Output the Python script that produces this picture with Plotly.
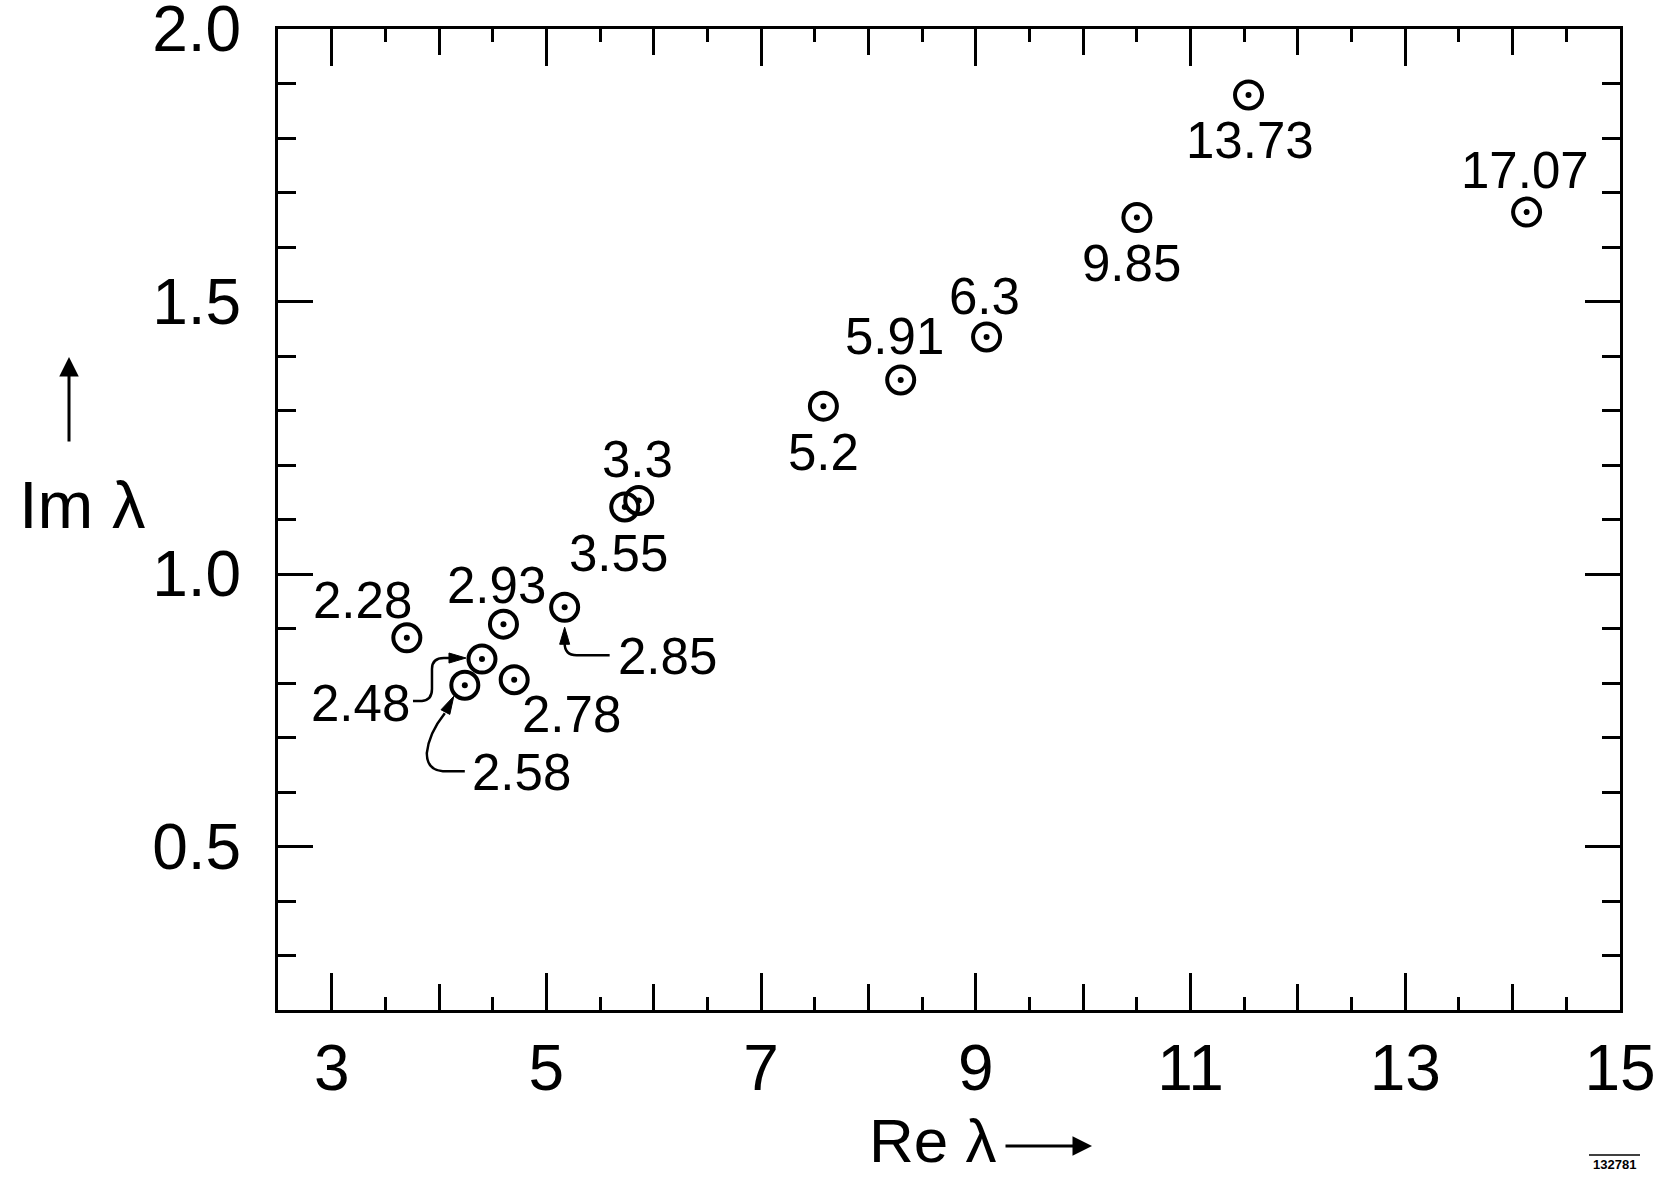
import plotly.graph_objects as go

# ---------------- data ----------------
labels = ["2.28", "2.93", "2.48", "2.58", "2.78", "2.85", "3.55", "3.3",
          "5.2", "5.91", "6.3", "9.85", "13.73", "17.07"]
re_lambda = [3.70, 4.60, 4.40, 4.24, 4.70, 5.17, 5.73, 5.86,
             7.58, 8.30, 9.10, 10.50, 11.54, 14.13]
im_lambda = [0.883, 0.908, 0.844, 0.796, 0.806, 0.939, 1.123, 1.135,
             1.308, 1.356, 1.435, 1.654, 1.879, 1.664]

x_major_ticks = [3, 5, 7, 9, 11, 13, 15]
x_mid_ticks = [4, 6, 8, 10, 12, 14]
y_major_ticks = [0.5, 1.0, 1.5, 2.0]
y_tick_text = ["0.5", "1.0", "1.5", "2.0"]

# ---------------- layout constants ----------------
W, H = 1655, 1177
L, R, T, B = 278, 35, 29, 167
PW, PH = W - L - R, H - T - B
FONT = "Liberation Sans, Arial, sans-serif"


def px(xp, yp):
    """pixel position in the page -> paper coordinates"""
    return (xp - L) / PW, (H - B - yp) / PH


# label offsets in pixels (dx right, dy up) relative to each point
label_offsets = {
    "2.28": (-44, 37), "2.93": (-7, 39), "2.48": (-121, -44),
    "2.58": (57, -87), "2.78": (57, -35), "2.85": (103, -49),
    "3.55": (-6, -47), "3.3": (-1, 41), "5.2": (0, -46),
    "5.91": (-6, 43), "6.3": (-2, 40), "9.85": (-5, -46),
    "13.73": (1, -46), "17.07": (-2, 42),
}

fig = go.Figure()
fig.add_trace(go.Scatter(
    x=re_lambda, y=im_lambda, mode="markers",
    marker=dict(symbol="circle-open", size=27, color="black",
                line=dict(width=4, color="black")),
    showlegend=False, hoverinfo="skip"))
fig.add_trace(go.Scatter(
    x=re_lambda, y=im_lambda, mode="markers",
    marker=dict(symbol="circle", size=6, color="black", line=dict(width=0)),
    showlegend=False, hoverinfo="skip"))
# empty trace to activate the overlay axis for the even-integer ticks
fig.add_trace(go.Scatter(x=[None], y=[None], xaxis="x2", mode="markers",
                         showlegend=False, hoverinfo="skip"))

annotations = []
for lab, xv, yv in zip(labels, re_lambda, im_lambda):
    dx, dy = label_offsets[lab]
    annotations.append(dict(x=xv, y=yv, xref="x", yref="y", text=lab,
                            showarrow=False, xshift=dx, yshift=dy,
                            xanchor="center", yanchor="middle",
                            font=dict(family=FONT, size=51, color="black")))

# axis titles
ax_, ay_ = px(82, 504)
annotations.append(dict(x=ax_, y=ay_, xref="paper", yref="paper", text="Im λ",
                        showarrow=False, xanchor="center", yanchor="middle",
                        font=dict(family=FONT, size=67, color="black")))
tx, ty = px(69, 357)
annotations.append(dict(x=tx, y=ty, xref="paper", yref="paper", text="",
                        showarrow=True, ax=0, ay=86, arrowhead=2, arrowsize=1.3,
                        arrowwidth=3, arrowcolor="black"))
rx, ry = px(932, 1140)
annotations.append(dict(x=rx, y=ry, xref="paper", yref="paper", text="Re λ",
                        showarrow=False, xanchor="center", yanchor="middle",
                        font=dict(family=FONT, size=62, color="black")))
tx, ty = px(1092, 1146)
annotations.append(dict(x=tx, y=ty, xref="paper", yref="paper", text="",
                        showarrow=True, ax=-88, ay=0, arrowhead=2, arrowsize=1.3,
                        arrowwidth=3, arrowcolor="black"))
cx, cy = px(1614, 1164)
annotations.append(dict(x=cx, y=cy, xref="paper", yref="paper", text="<b>132781</b>",
                        showarrow=False, xanchor="center", yanchor="middle",
                        font=dict(family=FONT, size=13, color="black")))

# curved leader arrows (pixel paths anchored at their points)
idx = {lab: i for i, lab in enumerate(labels)}
leader_paths = {
    "2.48": ("M -69,-42 L -60,-42 Q -50,-41 -50,-30 L -50,-10 Q -50,1 -38,1 L -30,1",
             "M -16,1 L -33,6 L -33,-4 Z"),
    "2.58": ("M 0,-86 L -22,-86 Q -38,-85 -38,-68 Q -36,-48 -20,-28",
             "M -11,-11 L -23.8,-24.6 L -15,-29.2 Z"),
    "2.85": ("M 45,-48 L 12,-48 Q 0,-48 0,-36",
             "M 0,-20 L -5,-37 L 5,-37 Z"),
}
shapes = []
for lab, (curve, head) in leader_paths.items():
    i = idx[lab]
    common = dict(xref="x", yref="y", xsizemode="pixel", ysizemode="pixel",
                  xanchor=re_lambda[i], yanchor=im_lambda[i])
    shapes.append(dict(type="path", path=curve, line=dict(color="black", width=2.5), **common))
    shapes.append(dict(type="path", path=head, fillcolor="black",
                       line=dict(color="black", width=1), **common))

# overline above the figure number
ox0, oy = px(1589, 1155)
ox1, _ = px(1640, 1155)
shapes.append(dict(type="line", xref="paper", yref="paper", x0=ox0, x1=ox1, y0=oy, y1=oy,
                   line=dict(color="black", width=1.5)))

fig.update_layout(
    width=W, height=H,
    margin=dict(l=L, r=R, t=T, b=B, pad=0, autoexpand=False),
    paper_bgcolor="white", plot_bgcolor="white",
    font=dict(family=FONT, color="black"),
    xaxis=dict(range=[2.5, 15], tickmode="array", tickvals=x_major_ticks,
               ticktext=[str(v) for v in x_major_ticks], automargin=False,
               ticks="inside", ticklen=37, tickwidth=3, tickcolor="black",
               showline=True, linewidth=3, linecolor="black", mirror="ticks",
               showgrid=False, zeroline=False,
               tickfont=dict(family=FONT, size=64, color="black"),
               ticklabelstandoff=0, ticklabeloverflow="allow",
               minor=dict(dtick=0.5, tick0=0, ticks="inside", ticklen=13,
                          tickwidth=2.5, tickcolor="black", showgrid=False)),
    xaxis2=dict(range=[2.5, 15], overlaying="x", anchor="y", side="bottom",
                tickmode="array", tickvals=x_mid_ticks, showticklabels=False,
                automargin=False,
                ticks="inside", ticklen=26, tickwidth=3, tickcolor="black",
                showline=False, mirror="ticks", showgrid=False, zeroline=False),
    yaxis=dict(range=[0.2, 2.0], tickmode="array", tickvals=y_major_ticks,
               ticktext=y_tick_text, automargin=False,
               ticks="inside", ticklen=35, tickwidth=3, tickcolor="black",
               showline=True, linewidth=3, linecolor="black", mirror="ticks",
               showgrid=False, zeroline=False,
               tickfont=dict(family=FONT, size=64, color="black"),
               ticklabelstandoff=21, ticklabeloverflow="allow",
               minor=dict(dtick=0.1, tick0=0, ticks="inside", ticklen=18,
                          tickwidth=2.5, tickcolor="black", showgrid=False)),
    annotations=annotations,
    shapes=shapes,
)

fig.write_html("out.html", config={"displayModeBar": False},
               post_script="document.body.style.margin='0px';")
